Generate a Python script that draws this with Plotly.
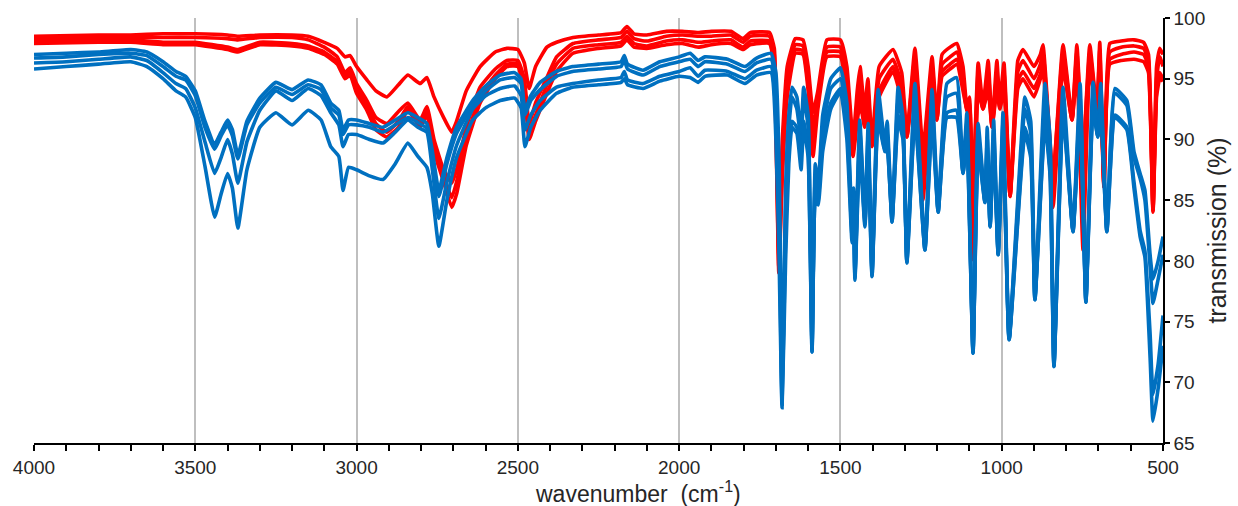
import plotly.graph_objects as go

# IR spectra, transmission (%) vs wavenumber (cm-1)
wn_blue = [
    4000, 3900, 3800, 3700, 3650, 3600, 3560, 3530, 3500, 3470,
    3440, 3420, 3400, 3385, 3368, 3340, 3300, 3250, 3200, 3150,
    3110, 3080, 3055, 3042, 3025, 3000, 2960, 2918, 2880, 2841,
    2810, 2782, 2765, 2745, 2720, 2690, 2640, 2600, 2555, 2510,
    2490, 2478, 2460, 2431, 2380, 2330, 2250, 2180, 2170, 2160,
    2112, 2060, 2000, 1966, 1941, 1920, 1850, 1796, 1760, 1715,
    1700, 1690, 1681, 1670, 1660, 1650, 1635, 1622, 1614, 1600,
    1588, 1578, 1569, 1555, 1530, 1500, 1480, 1464, 1459, 1455,
    1440, 1424, 1414, 1402, 1383, 1362, 1355, 1340, 1321, 1306,
    1294, 1269, 1238, 1216, 1197, 1170, 1140, 1120, 1108, 1089,
    1073, 1052, 1045, 1036, 1025, 1011, 996, 977, 928, 910,
    897, 866, 850, 838, 810, 779, 757, 739, 717, 702,
    693, 674, 649, 612, 590, 571, 556, 540, 531, 515,
    500,
]

blue_1 = [
    97.0, 97.1, 97.2, 97.4, 97.2, 96.4, 95.6, 95.2, 94.0, 91.5,
    89.6, 90.6, 91.6, 90.8, 88.7, 91.5, 93.4, 94.7, 94.1, 94.9,
    94.5, 93.0, 92.4, 90.8, 91.6, 91.6, 91.3, 91.0, 91.6, 92.2,
    91.8, 91.3, 89.0, 85.8, 88.5, 91.0, 93.2, 94.4, 95.3, 95.5,
    95.0, 92.4, 93.6, 94.7, 95.6, 96.0, 96.2, 96.4, 96.9, 96.2,
    95.7, 96.4, 96.8, 97.1, 96.5, 96.8, 96.6, 96.0, 96.7, 97.1,
    95.5, 88.0, 69.5, 86.0, 92.0, 94.3, 93.5, 90.5, 94.3, 92.0,
    73.0, 88.0, 86.0, 92.0, 95.0, 95.9, 93.0, 83.0, 86.0, 79.0,
    91.6, 83.5, 91.3, 79.2, 94.1, 89.5, 91.5, 83.6, 94.3, 91.8,
    80.2, 94.6, 81.2, 94.1, 84.3, 94.6, 95.1, 87.5, 92.2, 72.6,
    91.3, 85.0, 91.0, 83.0, 91.6, 80.7, 92.2, 73.7, 93.5, 91.5,
    77.0, 94.6, 90.0, 71.5, 94.3, 82.6, 94.6, 76.8, 94.7, 90.4,
    94.6, 82.6, 94.2, 93.2, 89.0, 87.2, 85.8, 80.5, 78.5, 80.0,
    82.0,
]

blue_2 = [
    96.7, 96.8, 97.0, 97.1, 96.9, 96.0, 95.2, 94.9, 93.6, 91.0,
    89.2, 90.3, 91.2, 90.3, 88.4, 91.2, 93.0, 94.3, 93.7, 94.5,
    94.1, 92.6, 92.0, 90.4, 91.2, 91.2, 91.0, 90.6, 91.2, 91.8,
    91.4, 90.9, 88.5, 85.3, 88.0, 90.5, 92.8, 94.0, 94.9, 95.1,
    94.6, 92.0, 93.2, 94.1, 95.2, 95.6, 95.8, 96.0, 96.5, 95.8,
    95.3, 96.0, 96.4, 96.6, 96.0, 96.4, 96.2, 95.6, 96.3, 96.6,
    94.0, 85.0, 68.8, 84.0, 91.0, 93.5, 92.5, 90.0, 93.5, 91.0,
    72.8, 87.0, 85.5, 91.0, 94.2, 95.0, 92.0, 82.5, 85.0, 78.8,
    90.8, 83.2, 90.5, 79.0, 93.2, 89.2, 90.5, 83.4, 93.3, 91.0,
    80.0, 93.6, 81.0, 93.2, 84.1, 93.5, 93.8, 87.3, 91.4, 72.5,
    90.5, 84.9, 90.2, 82.9, 90.8, 80.6, 91.4, 73.6, 92.5, 90.5,
    76.9, 93.0, 89.0, 71.4, 93.2, 82.5, 93.5, 76.7, 93.6, 90.3,
    93.5, 82.5, 93.8, 92.8, 88.5, 86.8, 85.0, 79.5, 76.5, 78.5,
    80.5,
]

blue_3 = [
    96.3, 96.4, 96.6, 96.8, 96.5, 95.5, 94.6, 94.2, 92.6, 89.8,
    87.2, 88.5, 90.0, 88.8, 86.4, 89.8, 92.4, 94.0, 93.2, 94.2,
    93.6, 92.2, 91.2, 89.4, 90.4, 90.4, 90.0, 89.7, 90.6, 91.6,
    91.0, 90.6, 87.5, 83.5, 86.5, 89.5, 92.5, 93.6, 94.2, 94.4,
    93.6, 90.8, 92.0, 93.2, 94.3, 94.6, 94.9, 95.1, 95.6, 94.9,
    94.6, 95.2, 95.6, 95.9, 95.2, 95.7, 95.6, 95.0, 95.7, 96.0,
    92.0, 83.0, 68.2, 82.0, 89.0, 91.5, 91.0, 89.0, 91.5, 89.0,
    72.5, 86.0, 85.0, 90.0, 93.0, 94.2, 91.0, 82.0, 84.0, 78.6,
    90.0, 83.0, 89.5, 78.8, 92.0, 89.1, 89.5, 83.2, 92.0, 90.5,
    79.9, 92.2, 80.9, 92.0, 84.0, 92.2, 92.4, 87.2, 90.5, 72.4,
    89.5, 84.8, 89.5, 82.8, 89.8, 80.5, 90.5, 73.5, 91.0, 89.0,
    76.8, 91.6, 87.5, 71.3, 92.4, 82.4, 92.7, 76.6, 92.7, 90.2,
    92.6, 82.4, 92.0, 91.0, 86.5, 82.5, 80.8, 74.0, 69.0, 71.5,
    75.5,
]

blue_4 = [
    95.8, 96.0, 96.2, 96.4, 96.0, 95.0, 94.0, 93.5, 91.8, 87.8,
    83.6, 85.5, 87.2, 86.0, 82.7, 87.5, 91.0, 92.2, 91.2, 92.4,
    91.6, 89.4, 88.6, 85.8, 87.7, 87.5, 87.0, 86.7, 88.0, 89.7,
    88.6, 87.7, 85.5, 81.2, 85.0, 88.5, 91.6, 92.6, 93.2, 93.4,
    92.6, 89.4, 91.0, 92.4, 93.8, 94.3, 94.5, 94.7, 95.0, 94.5,
    94.2, 94.8, 95.2, 95.1, 94.7, 95.2, 95.3, 94.6, 95.3, 95.5,
    90.0, 80.0, 67.9, 80.0, 88.0, 91.0, 90.5, 87.5, 91.0, 88.5,
    72.5, 85.0, 84.6, 89.0, 92.5, 93.9, 90.0, 81.5, 83.0, 78.4,
    89.0, 82.8, 89.0, 78.7, 91.5, 89.0, 89.0, 83.2, 91.5, 90.0,
    79.8, 91.8, 80.9, 91.5, 84.0, 91.8, 91.8, 87.2, 90.0, 72.4,
    89.0, 84.8, 89.0, 82.8, 89.2, 80.5, 90.0, 73.5, 90.5, 88.5,
    76.8, 91.2, 87.0, 71.3, 92.0, 82.4, 92.3, 76.6, 92.3, 90.2,
    92.2, 82.4, 91.8, 90.8, 86.0, 82.0, 80.3, 72.0, 66.8, 69.5,
    73.0,
]

wn_red = [
    4000, 3800, 3700, 3600, 3500, 3400, 3368, 3300, 3200, 3150,
    3100, 3060, 3036, 3020, 3000, 2968, 2940, 2906, 2870, 2841,
    2803, 2782, 2760, 2730, 2705, 2690, 2660, 2617, 2570, 2534,
    2500, 2480, 2465, 2445, 2410, 2380, 2329, 2250, 2180, 2162,
    2140, 2100, 2040, 1990, 1941, 1900, 1840, 1802, 1780, 1720,
    1705, 1691, 1680, 1665, 1640, 1616, 1600, 1585, 1570, 1542,
    1500, 1480, 1461, 1448, 1439, 1425, 1415, 1402, 1380, 1337,
    1310, 1294, 1269, 1244, 1216, 1201, 1185, 1160, 1139, 1120,
    1108, 1100, 1089, 1073, 1058, 1042, 1030, 1015, 1006, 993,
    974, 950, 934, 900, 880, 872, 841, 810, 782, 767,
    748, 727, 705, 696, 683, 665, 630, 590, 560, 545,
    531, 520, 510, 500,
]

red_1 = [
    98.5, 98.6, 98.6, 98.7, 98.7, 98.6, 98.5, 98.6, 98.6, 98.5,
    98.0, 97.5, 96.8, 96.9, 96.0, 94.9, 94.0, 93.5, 94.5, 95.3,
    94.6, 95.1, 93.5, 91.8, 90.6, 91.5, 94.0, 96.0, 97.2, 97.5,
    97.4, 96.3, 94.2, 96.0, 97.6, 98.0, 98.4, 98.6, 98.8, 99.3,
    98.7, 98.6, 98.9, 98.9, 98.8, 98.9, 98.9, 98.3, 98.8, 98.8,
    97.5, 82.0, 90.0, 96.0, 98.3, 98.2, 96.0, 92.2, 94.0, 98.2,
    98.2, 96.0, 90.0, 94.0, 96.0, 92.4, 95.0, 89.8, 96.0, 97.4,
    95.5, 90.4, 97.5, 89.2, 96.8, 91.8, 97.0, 97.6, 97.9, 96.0,
    92.6, 93.5, 86.0, 96.3, 92.8, 96.5, 91.2, 96.5, 93.0, 96.3,
    85.5, 96.5, 97.4, 96.0, 97.0, 97.8, 87.0, 97.8, 91.8, 97.8,
    88.8, 97.8, 92.4, 98.0, 86.3, 97.9, 98.1, 98.2, 98.0, 97.0,
    84.3, 96.0, 97.5, 97.0,
]

red_2 = [
    98.3, 98.4, 98.4, 98.4, 98.4, 98.3, 98.2, 98.4, 98.4, 98.2,
    97.6, 96.8, 95.5, 95.9, 94.6, 93.2, 91.8, 91.3, 92.3, 93.0,
    91.6, 92.7, 90.0, 87.5, 86.4, 87.5, 91.0, 94.3, 95.8, 96.5,
    96.5, 95.0, 91.3, 93.0, 95.1, 96.8, 97.9, 98.2, 98.4, 98.9,
    98.3, 98.1, 98.5, 98.6, 98.5, 98.5, 98.6, 98.0, 98.5, 98.5,
    97.0, 80.5, 89.0, 95.0, 97.8, 97.7, 95.0, 91.0, 93.5, 97.6,
    97.6, 95.0, 89.5, 93.0, 95.0, 92.0, 94.0, 89.6, 95.0, 96.6,
    94.5, 90.3, 96.8, 88.0, 96.0, 91.7, 96.2, 96.8, 97.2, 95.0,
    92.5, 93.0, 85.8, 95.5, 92.6, 95.6, 91.1, 95.5, 92.8, 95.5,
    85.4, 95.6, 96.5, 95.0, 96.2, 97.2, 86.9, 97.2, 91.7, 97.2,
    88.6, 97.2, 92.3, 97.4, 86.2, 97.2, 97.6, 97.7, 97.5, 96.5,
    84.2, 95.0, 96.8, 96.0,
]

red_3 = [
    98.1, 98.2, 98.2, 98.0, 98.0, 97.6, 97.4, 98.0, 97.9, 97.7,
    97.2, 96.4, 95.2, 95.6, 94.2, 92.8, 91.3, 90.6, 91.5, 92.7,
    91.3, 92.4, 89.5, 87.0, 85.2, 86.5, 90.0, 93.6, 95.3, 96.2,
    96.2, 94.4, 90.6, 92.0, 94.5, 96.2, 97.5, 97.8, 98.0, 98.5,
    97.9, 97.7, 98.1, 98.2, 98.0, 98.1, 98.2, 97.6, 98.1, 98.1,
    96.0, 79.5, 88.0, 94.0, 97.4, 97.3, 94.5, 90.0, 93.0, 97.2,
    97.2, 94.0, 89.0, 92.0, 94.0, 91.5, 93.0, 89.5, 94.0, 96.0,
    93.8, 90.2, 96.2, 86.5, 95.4, 91.6, 95.6, 96.2, 96.6, 94.5,
    92.4, 92.5, 83.0, 94.5, 92.5, 94.6, 91.0, 94.6, 92.6, 94.5,
    85.3, 94.8, 95.6, 94.2, 95.4, 96.2, 86.2, 96.2, 91.6, 96.2,
    85.0, 96.2, 92.2, 96.4, 86.1, 96.6, 97.0, 97.2, 97.0, 96.0,
    84.1, 94.0, 95.5, 95.0,
]

red_4 = [
    97.9, 98.0, 98.0, 97.8, 97.8, 97.4, 97.2, 97.8, 97.7, 97.5,
    97.0, 96.2, 95.0, 95.3, 93.8, 92.4, 90.8, 90.2, 91.0, 92.4,
    91.0, 92.0, 89.0, 86.5, 84.4, 85.5, 89.5, 93.0, 95.0, 96.0,
    96.0, 94.0, 90.0, 91.5, 93.8, 95.6, 97.1, 97.5, 97.7, 98.2,
    97.6, 97.5, 97.8, 97.9, 97.6, 97.8, 97.9, 97.4, 97.8, 97.9,
    95.5, 79.0, 87.0, 93.5, 97.1, 97.0, 94.0, 88.6, 92.5, 96.8,
    96.8, 93.5, 88.6, 91.5, 93.0, 91.0, 92.5, 89.4, 93.5, 95.6,
    93.2, 90.2, 95.8, 85.0, 95.0, 91.6, 95.2, 95.8, 96.2, 94.0,
    92.4, 92.0, 80.1, 94.0, 92.5, 94.0, 91.0, 94.0, 92.5, 94.0,
    85.3, 94.2, 95.0, 93.5, 95.0, 95.8, 84.4, 95.8, 91.6, 95.8,
    80.9, 95.8, 92.2, 96.0, 86.1, 96.2, 96.5, 96.6, 96.4, 95.5,
    84.0, 93.5, 95.0, 94.8,
]

x_ticks = [4000, 3500, 3000, 2500, 2000, 1500, 1000, 500]

RED = "#FF0000"
BLUE = "#0070C0"
FONT = "Liberation Sans, Arial, sans-serif"

fig = go.Figure()
for ys in [red_1, red_2, red_3, red_4]:
    fig.add_trace(go.Scatter(x=wn_red, y=ys, mode="lines",
                             line=dict(color=RED, width=3.6, shape="spline", smoothing=0.4),
                             showlegend=False))
for ys in [blue_1, blue_2, blue_3, blue_4]:
    fig.add_trace(go.Scatter(x=wn_blue, y=ys, mode="lines",
                             line=dict(color=BLUE, width=3.6, shape="spline", smoothing=0.4),
                             showlegend=False))

fig.update_layout(
    width=1238, height=506,
    margin=dict(l=34, r=75, t=18, b=63, autoexpand=False),
    paper_bgcolor="white", plot_bgcolor="white",
    font=dict(family=FONT, size=19, color="#262626"),
    xaxis=dict(
        range=[4000, 500], tickvals=x_ticks, automargin=False,
        showgrid=True, gridcolor="#BFBFBF", gridwidth=1.5,
        showline=True, linecolor="black", linewidth=1.5,
        ticks="outside", ticklen=6, tickcolor="black", tickwidth=1.5,
        minor=dict(dtick=100, tick0=0, ticks="outside", ticklen=6,
                   tickcolor="black", tickwidth=1.5, showgrid=False),
        zeroline=False,
    ),
    yaxis=dict(
        range=[65, 100], dtick=5, side="right", automargin=False,
        showgrid=False, zeroline=False,
        showline=True, linecolor="black", linewidth=1.5,
        ticks="outside", ticklen=5, tickcolor="black", tickwidth=1.5,
        title=dict(text="transmission (%)", font=dict(size=25), standoff=4),
    ),
)

# x title sits a bit right of the plot centre in the original
fig.add_annotation(text="wavenumber  (cm<sup>-1</sup>)", xref="paper", yref="paper",
                   x=0.535, y=-0.115, xanchor="center", yanchor="middle",
                   showarrow=False, font=dict(size=23))

# the page body has a default 8px margin; drop it so the figure fills the window
fig.write_html("out.html", config={"displayModeBar": False},
               post_script="document.body.style.margin='0px';")
